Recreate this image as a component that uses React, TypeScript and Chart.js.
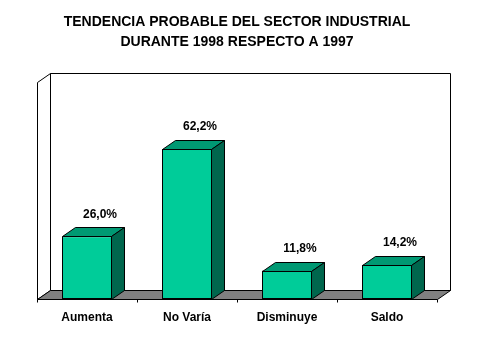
import React, { useEffect, useRef } from "react";
import { Chart, registerables } from "chart.js";

Chart.register(...registerables);

const titleLines = ["TENDENCIA PROBABLE DEL SECTOR INDUSTRIAL", "DURANTE 1998 RESPECTO A 1997"];
const categories = ["Aumenta", "No Varía", "Disminuye", "Saldo"];
const values = [26.0, 62.2, 11.8, 14.2];
const yMax = 90;

const FONT = 'Arial, "Liberation Sans", Helvetica, sans-serif';
const FRONT = "rgb(0,204,153)";
const TOP = "rgb(0,153,115)";
const SIDE = "rgb(0,102,77)";
const FLOOR = "rgb(128,128,128)";
const DX = 13;
const DY = 9;

const fmt = (v: number) => v.toFixed(1).replace(".", ",") + "%";

const threeD = {
  id: "threeD",
  beforeDatasetsDraw(chart: any) {
    const { ctx, chartArea } = chart;
    const { left, right, top, bottom } = chartArea;
    const L = Math.round(left) + 0.5;
    const R = Math.round(right) + 0.5;
    const T = Math.round(top) + 0.5;
    const B = Math.round(bottom) + 0.5;
    ctx.save();
    ctx.lineWidth = 1;
    ctx.strokeStyle = "#000";
    // back wall
    ctx.fillStyle = "#fff";
    ctx.beginPath();
    ctx.rect(L + DX, T - DY, R - L, B - T);
    ctx.fill();
    ctx.stroke();
    // left wall
    ctx.beginPath();
    ctx.moveTo(L, T);
    ctx.lineTo(L + DX, T - DY);
    ctx.lineTo(L + DX, B - DY);
    ctx.lineTo(L, B);
    ctx.closePath();
    ctx.fill();
    ctx.stroke();
    // floor
    ctx.fillStyle = FLOOR;
    ctx.beginPath();
    ctx.moveTo(L, B);
    ctx.lineTo(R, B);
    ctx.lineTo(R + DX, B - DY);
    ctx.lineTo(L + DX, B - DY);
    ctx.closePath();
    ctx.fill();
    ctx.stroke();
    // ticks
    const n = categories.length;
    for (let i = 0; i <= n; i++) {
      const x = Math.round(left + (i * (right - left)) / n) + 0.5;
      ctx.beginPath();
      ctx.moveTo(x, B);
      ctx.lineTo(x, B + 3);
      ctx.stroke();
    }
    ctx.restore();
  },
  afterDatasetsDraw(chart: any) {
    const { ctx, chartArea } = chart;
    const meta = chart.getDatasetMeta(0);
    const xScale = chart.scales.x;
    ctx.save();
    ctx.lineWidth = 1;
    ctx.strokeStyle = "#000";
    meta.data.forEach((bar: any, i: number) => {
      const { x, y, base, width } = bar.getProps(["x", "y", "base", "width"], true);
      const l = Math.round(x - width / 2) + 0.5;
      const r = Math.round(x + width / 2) - 0.5;
      const t = Math.round(y) + 0.5;
      const b = Math.round(base) + 0.5;
      // top face
      ctx.fillStyle = TOP;
      ctx.beginPath();
      ctx.moveTo(l, t);
      ctx.lineTo(l + DX, t - DY);
      ctx.lineTo(r + DX, t - DY);
      ctx.lineTo(r, t);
      ctx.closePath();
      ctx.fill();
      ctx.stroke();
      // side face
      ctx.fillStyle = SIDE;
      ctx.beginPath();
      ctx.moveTo(r, t);
      ctx.lineTo(r + DX, t - DY);
      ctx.lineTo(r + DX, b - DY);
      ctx.lineTo(r, b);
      ctx.closePath();
      ctx.fill();
      ctx.stroke();
      // value label
      ctx.fillStyle = "#000";
      ctx.font = `bold 12px ${FONT}`;
      ctx.textAlign = "center";
      ctx.textBaseline = "middle";
      ctx.fillText(fmt(values[i]), x + DX, y - 22);
    });
    // category labels
    ctx.fillStyle = "#000";
    ctx.font = `bold 12px ${FONT}`;
    ctx.textAlign = "center";
    ctx.textBaseline = "middle";
    categories.forEach((c, i) => {
      ctx.fillText(c, xScale.getPixelForValue(i), chartArea.bottom + 19);
    });
    ctx.restore();
  },
};

export default function App() {
  const ref = useRef<HTMLCanvasElement | null>(null);
  useEffect(() => {
    if (!ref.current) return;
    const chart = new Chart(ref.current, {
      type: "bar",
      data: {
        labels: categories,
        datasets: [
          {
            data: values,
            backgroundColor: FRONT,
            borderColor: "#000",
            borderWidth: 1,
            borderSkipped: false,
            barPercentage: 0.5,
            categoryPercentage: 1,
          },
        ],
      },
      options: {
        responsive: false,
        animation: false,
        events: [],
        layout: { padding: { left: 37, right: 42, top: 0, bottom: 60 } },
        scales: {
          x: { display: false },
          y: { display: false, min: 0, max: yMax },
        },
        plugins: {
          legend: { display: false },
          tooltip: { enabled: false },
          title: {
            display: true,
            text: titleLines,
            color: "#000",
            font: { family: FONT, weight: "bold", size: 14, lineHeight: "20px" as any },
            padding: { top: 12, bottom: 30 },
          },
        },
      },
      plugins: [threeD],
    });
    return () => chart.destroy();
  }, []);
  return (
    <div style={{ position: "absolute", left: 0, top: 0, width: 479, height: 359, background: "#fff" }}>
      <canvas ref={ref} width={479} height={359} style={{ display: "block" }} />
    </div>
  );
}
